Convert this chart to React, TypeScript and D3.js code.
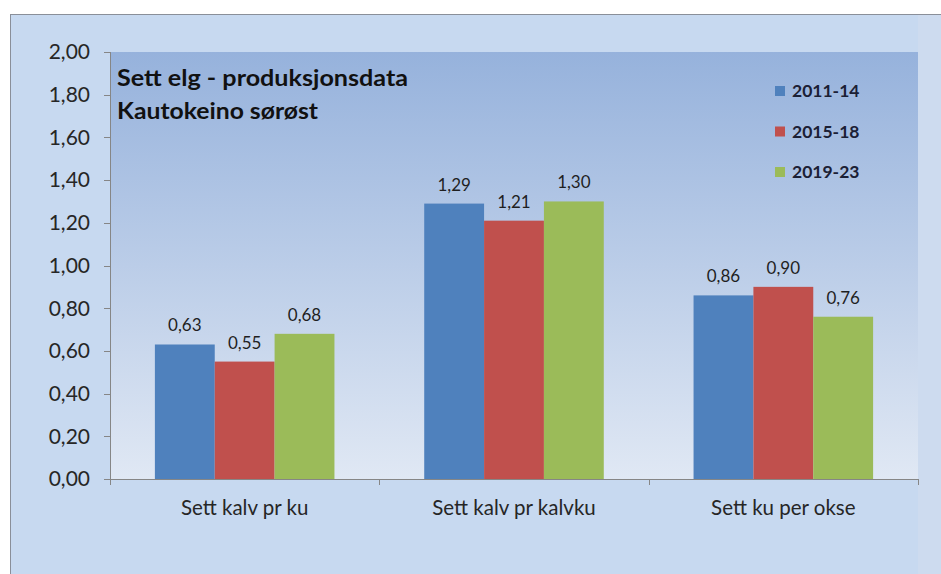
import React from "react";
import * as d3 from "d3";

const categories = ["Sett kalv pr ku", "Sett kalv pr kalvku", "Sett ku per okse"];
const seriesNames = ["2011-14", "2015-18", "2019-23"];
const series2011 = [0.63, 1.29, 0.86];
const series2015 = [0.55, 1.21, 0.9];
const series2019 = [0.68, 1.3, 0.76];
const yTicks = [0, 0.2, 0.4, 0.6, 0.8, 1.0, 1.2, 1.4, 1.6, 1.8, 2.0];
const titleLines = ["Sett elg - produksjonsdata", "Kautokeino sørøst"];
const titleWidths = [291, 201];

const colors = ["#4f81bd", "#c0504d", "#9bbb59"];
const W = 941;
const H = 574;
const plot = { left: 110, right: 918, top: 52, bottom: 479 };
const FONT = "Lato, 'Open Sans', sans-serif";

const fmt = (v: number) => v.toFixed(2).replace(".", ",");

export default function App() {
  const allSeries = [series2011, series2015, series2019];
  const x = d3.scaleBand<string>().domain(categories).range([plot.left, plot.right]).paddingInner(0).paddingOuter(0);
  const y = d3.scaleLinear().domain([0, 2]).range([plot.bottom, plot.top]);
  const band = x.bandwidth();
  const barW = band / (3 + 1.5);
  const inner = d3.scaleBand<number>().domain([0, 1, 2]).range([barW * 0.75, band - barW * 0.75]).padding(0);

  return (
    <svg width={W} height={H} style={{ position: "absolute", left: 0, top: 0 }} fontFamily={FONT}>
      <defs>
        <linearGradient id="plotGrad" x1="0" y1="0" x2="0" y2="1">
          <stop offset="0" stopColor="#96b2dc" />
          <stop offset="1" stopColor="#e0e8f4" />
        </linearGradient>
      </defs>
      <rect x={0} y={0} width={W} height={H} fill="#ffffff" />
      <rect x={10} y={14} width={W} height={H} fill="#c7d9f0" />
      <rect x={918} y={14} width={W - 918} height={H} fill="#cddbef" />
      <line x1={10} y1={14.5} x2={W} y2={14.5} stroke="#8a8f99" strokeWidth={1} />
      <line x1={10.5} y1={14} x2={10.5} y2={H} stroke="#8a8f99" strokeWidth={1} />
      <rect x={plot.left} y={plot.top} width={plot.right - plot.left} height={plot.bottom - plot.top} fill="url(#plotGrad)" />

      {/* bars */}
      {allSeries.map((s, si) =>
        s.map((v, ci) => {
          const bx = (x(categories[ci]) as number) + (inner(si) as number);
          return (
            <g key={`${si}-${ci}`}>
              <rect x={bx} y={y(v)} width={inner.bandwidth()} height={y(0) - y(v)} fill={colors[si]} />
              <text x={bx + inner.bandwidth() / 2} y={y(v) - 13} textAnchor="middle" fontSize={17} fill="#1f1f1f">
                {fmt(v)}
              </text>
            </g>
          );
        })
      )}

      {/* y axis */}
      <line x1={plot.left + 0.5} y1={plot.top} x2={plot.left + 0.5} y2={plot.bottom} stroke="#868686" />
      {yTicks.map((t) => (
        <g key={t}>
          <line x1={plot.left - 6} x2={plot.left} y1={Math.round(y(t)) + 0.5} y2={Math.round(y(t)) + 0.5} stroke="#868686" />
          <text x={90} y={y(t)} dy="0.35em" textAnchor="end" fontSize={21} fill="#262626">
            {fmt(t)}
          </text>
        </g>
      ))}

      {/* x axis */}
      <line x1={plot.left} y1={plot.bottom + 0.5} x2={plot.right} y2={plot.bottom + 0.5} stroke="#868686" />
      {[...categories.map((c) => x(c) as number), plot.right].map((px, i) => (
        <line key={i} x1={Math.round(px) + 0.5} x2={Math.round(px) + 0.5} y1={plot.bottom} y2={plot.bottom + 6} stroke="#868686" />
      ))}
      {categories.map((c) => (
        <text key={c} x={(x(c) as number) + band / 2} y={515} textAnchor="middle" fontSize={20.5} fill="#262626">
          {c}
        </text>
      ))}

      {/* title */}
      {titleLines.map((t, i) => (
        <text
          key={t}
          x={117}
          y={86 + i * 33}
          fontSize={22.5}
          fontWeight="bold"
          fill="#111111"
          textLength={titleWidths[i]}
          lengthAdjust="spacingAndGlyphs"
        >
          {t}
        </text>
      ))}

      {/* legend */}
      {seriesNames.map((n, i) => (
        <g key={n} transform={`translate(775, ${91 + i * 40.5})`}>
          <rect x={0} y={-5} width={10} height={10} fill={colors[i]} />
          <text x={17} y={0} dy="0.35em" fontSize={17.5} fontWeight="bold" fill="#1b2035">
            {n}
          </text>
        </g>
      ))}
    </svg>
  );
}
